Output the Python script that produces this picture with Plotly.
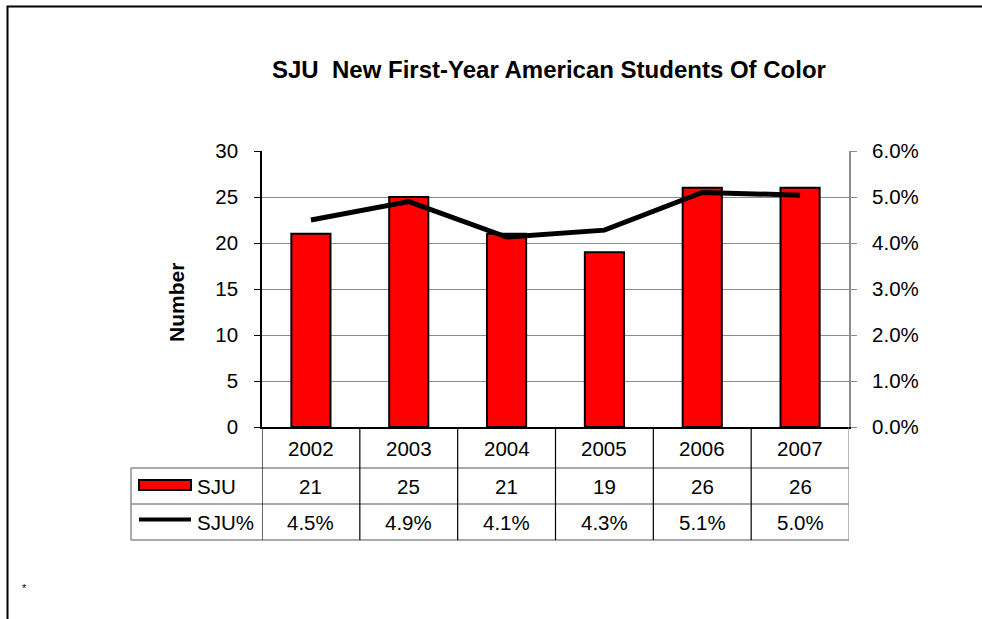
import plotly.graph_objects as go

# ---- data ----
years = ["2002", "2003", "2004", "2005", "2006", "2007"]
sju_counts = [21, 25, 21, 19, 26, 26]
sju_pct = [0.045, 0.049, 0.0413, 0.0428, 0.051, 0.0504]
left_ticks = [0, 5, 10, 15, 20, 25, 30]
right_ticks = [0.0, 0.01, 0.02, 0.03, 0.04, 0.05, 0.06]
title_text = "SJU\u00a0 New First-Year American Students Of Color"
series_names = ["SJU", "SJU%"]

W, H = 982, 619
L, R, T, B = 262, 849, 151, 427
PW, PH = R - L, B - T


def px(sx):
    return (sx - L) / PW


def py(sy):
    return (B - sy) / PH


FONT = "Liberation Sans, Arial, sans-serif"
GRAY = "#8c8c8c"
FS = 20.5

fig = go.Figure()
fig.add_trace(go.Bar(
    x=years, y=sju_counts, name=series_names[0],
    marker=dict(color="#FF0000", line=dict(color="black", width=2)),
    yaxis="y",
))
fig.add_trace(go.Scatter(
    x=years, y=sju_pct, name=series_names[1], mode="lines",
    line=dict(color="black", width=5), yaxis="y2",
))

shapes = []
annotations = []
n = len(years)


def txt(x, y, text, size=FS, xanchor="center", angle=0):
    annotations.append(dict(x=x, y=y, xref="paper", yref="paper", text=text,
                            xanchor=xanchor, yanchor="middle", textangle=angle,
                            showarrow=False,
                            font=dict(size=size, color="black", family=FONT)))


# table horizontal lines (gray)
for yy in [468, 504, 540]:
    shapes.append(dict(type="line", xref="paper", yref="paper",
                       x0=px(131), x1=px(849), y0=py(yy), y1=py(yy),
                       line=dict(color=GRAY, width=1.5)))
# legend column left border
shapes.append(dict(type="line", xref="paper", yref="paper",
                   x0=px(131), x1=px(131), y0=py(468), y1=py(540),
                   line=dict(color=GRAY, width=1.5)))
# vertical table lines at category boundaries
for i in range(n + 1):
    xb = i - 0.5
    col = "black" if i < n else GRAY
    shapes.append(dict(type="line", xref="x", yref="paper",
                       x0=xb, x1=xb, y0=py(427), y1=py(540),
                       line=dict(color=col, width=1.2)))

# table text
for i, yr in enumerate(years):
    xc = (i + 0.5) / n
    txt(xc, py(448), yr)
    txt(xc, py(486), str(sju_counts[i]))
    txt(xc, py(522), f"{sju_pct[i]*100:.1f}%")

# legend keys in table
shapes.append(dict(type="rect", xref="paper", yref="paper",
                   x0=px(139), x1=px(191), y0=py(490), y1=py(480),
                   fillcolor="#FF0000", line=dict(color="black", width=2)))
shapes.append(dict(type="line", xref="paper", yref="paper",
                   x0=px(139), x1=px(191), y0=py(519.5), y1=py(519.5),
                   line=dict(color="black", width=4)))
txt(px(195), py(486), series_names[0], xanchor="left")
txt(px(195), py(522), series_names[1], xanchor="left")

# title
txt(px(549), py(69), "<b>" + title_text + "</b>", size=24)
# y axis title
txt(px(176), py(303), "<b>Number</b>", size=21, angle=-90)
# asterisk
txt(px(24), py(588), "*", size=11)

# outer frame (partial)
shapes.append(dict(type="path", xref="paper", yref="paper",
                   path=f"M {px(7.5)},{py(640)} L {px(7.5)},{py(6.5)} L {px(1000)},{py(6.5)}",
                   line=dict(color="black", width=2)))

fig.update_layout(
    width=W, height=H,
    margin=dict(l=L, r=W - R, t=T, b=H - B, pad=0),
    paper_bgcolor="white", plot_bgcolor="white",
    showlegend=False,
    bargap=0.6,
    font=dict(family=FONT, size=FS, color="black"),
    xaxis=dict(type="category", showticklabels=False, ticks="", showline=True,
               linecolor="black", linewidth=1.5, showgrid=False, zeroline=False,
               range=[-0.5, n - 0.5], fixedrange=True),
    yaxis=dict(range=[0, 30], tickvals=left_ticks, ticks="outside", ticklen=6,
               tickcolor="black", showline=True, linecolor="black", linewidth=1.5,
               showgrid=True, gridcolor=GRAY, gridwidth=1.2, zeroline=False,
               tickfont=dict(size=FS, family=FONT, color="black"), ticklabelstandoff=12),
    yaxis2=dict(range=[0, 0.06], tickvals=right_ticks, tickformat=".1%", overlaying="y",
                side="right", ticks="outside", ticklen=6, tickcolor=GRAY, showline=True,
                linecolor=GRAY, linewidth=2, showgrid=False, zeroline=False,
                tickfont=dict(size=FS, family=FONT, color="black"), ticklabelstandoff=11),
    shapes=shapes,
    annotations=annotations,
)

fig.write_html(
    "out.html",
    config={"displayModeBar": False},
    post_script="document.body.style.margin='0';document.body.style.overflow='hidden';",
)
